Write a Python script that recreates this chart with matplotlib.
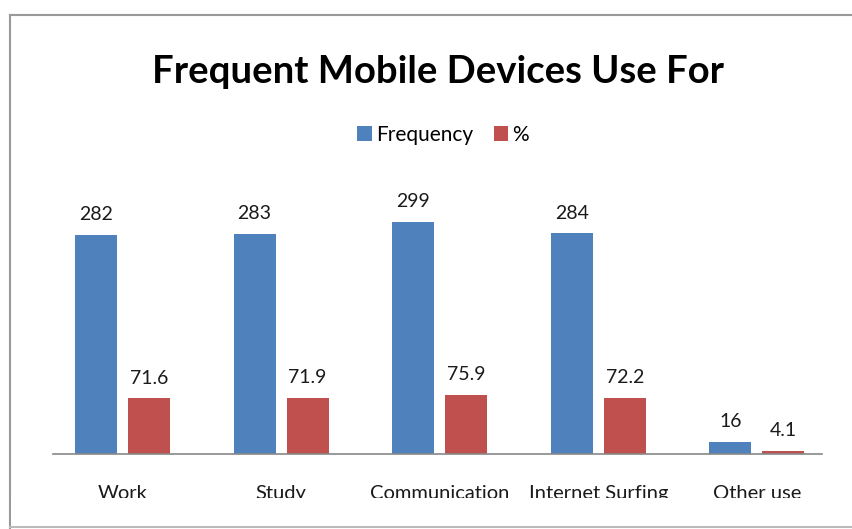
import matplotlib.pyplot as plt
import matplotlib.patches as mpatches
import matplotlib.lines as mlines
import numpy as np

plt.rcParams['font.family'] = ['Lato', 'DejaVu Sans']

categories = ['Work', 'Study', 'Communication', 'Internet Surfing', 'Other use']
frequency = [282, 283, 299, 284, 16]
percent = [71.6, 71.9, 75.9, 72.2, 4.1]

blue = '#4F81BD'
red = '#C0504D'

fig = plt.figure(figsize=(8.52, 5.29), dpi=100)
ax = fig.add_axes([53/852, 75/529, 769/852, 272/529])

x = np.arange(len(categories))
w = 0.265
off = 0.167
b1 = ax.bar(x - off, frequency, w, color=blue, label='Frequency')
b2 = ax.bar(x + off, percent, w, color=red, label='%')

for bars, vals in [(b1, frequency), (b2, percent)]:
    for b, v in zip(bars, vals):
        ax.text(b.get_x() + b.get_width()/2, b.get_height() + 15, str(v),
                ha='center', va='bottom', fontsize=14, color='#1a1a1a')

ax.set_xlim(-0.438, 4.41)
ax.set_ylim(0, 350)
ax.set_yticks([])
ax.set_xticks(x)
ax.set_xticklabels(categories, fontsize=14.5, color='#1a1a1a')
ax.tick_params(axis='x', length=0, pad=22)
for s in ['top', 'right', 'left']:
    ax.spines[s].set_visible(False)
ax.spines['bottom'].set_color('#888888')
ax.spines['bottom'].set_linewidth(1.2)

fig.text(438/852, 1 - 72/529, 'Frequent Mobile Devices Use For', ha='center', va='center',
         fontsize=27.5, fontweight='bold', color='black')

fig.legend(handles=[b1, b2], loc='center', bbox_to_anchor=(443/852, 1 - 135/529), ncol=2,
           frameon=False, fontsize=15, handlelength=0.7, handleheight=0.7,
           handletextpad=0.2, columnspacing=1.0)

# screenshot frame
fig.add_artist(mlines.Line2D([10/852, 1], [1 - 15/529, 1 - 15/529], color='#999999', lw=1.5))
fig.add_artist(mlines.Line2D([10/852, 10/852], [0, 1 - 15/529], color='#999999', lw=1.5))
fig.add_artist(mpatches.Rectangle((11/852, 0.5/529), 1, 31/529, transform=fig.transFigure,
                                  facecolor='white', edgecolor='none', zorder=10))
fig.add_artist(mlines.Line2D([10/852, 1], [2/529, 2/529], color='#bbbbbb', lw=1.5, zorder=11))

fig.savefig('out.png', dpi=100)
